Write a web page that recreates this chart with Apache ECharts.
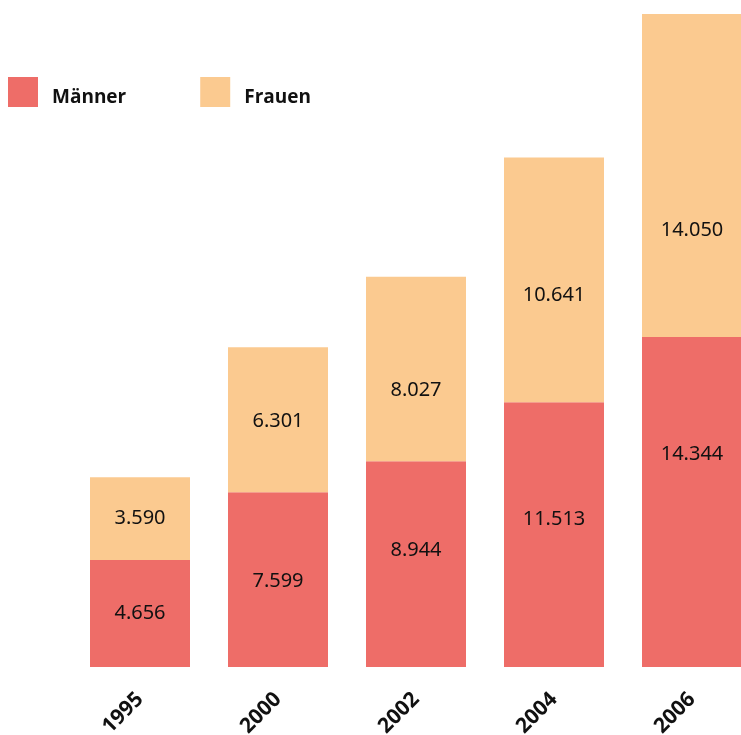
<!DOCTYPE html>
<html><head><meta charset="utf-8">
<script src="https://cdn.jsdelivr.net/npm/echarts@6/dist/echarts.min.js"></script>
<style>html,body{margin:0;padding:0;background:#fff}#c{width:741px;height:735px}</style>
</head><body><div id="c"></div>
<script>
const years = ['1995','2000','2002','2004','2006'];
const maenner = [4656, 7599, 8944, 11513, 14344];
const frauen = [3590, 6301, 8027, 10641, 14050];
const seriesNames = ['Männer','Frauen'];
const colors = ['#ee6d68','#fbca90'];
// label vertical nudges (px), styling only
const offM = [0, 2, -14, -15, -48];
const offF = [0, 2, 21, 15, 55];

const fmt = v => v.toLocaleString('de-DE');
const boldFont = '"Open Sans", sans-serif';
const chart = echarts.init(document.getElementById('c'), null, {renderer:'canvas'});
const mk = (vals, offs) => vals.map((v, i) => ({value: v, label: {offset: [0, offs[i]]}}));
const labelStyle = {show:true, position:'inside', color:'#111', fontFamily:'Noto Sans', fontSize:20,
  formatter: p => fmt(p.value)};
chart.setOption({
  animation:false,
  color: colors,
  grid:{left:71, width:690, top:14, bottom:68, outerBoundsMode:'none', containLabel:false},
  legend:{left:3, top:72, itemWidth:30, itemHeight:30, itemGap:74, icon:'rect',
    formatter: n => '{t|' + n + '}',
    textStyle:{fontFamily:boldFont, fontWeight:'bold', fontSize:19, color:'#111', padding:[0,0,0,9],
      rich:{t:{fontFamily:boldFont, fontWeight:'bold', fontSize:19, color:'#111', padding:[12,0,0,0]}}},
    data: seriesNames},
  xAxis:{type:'category', data: years, axisLine:{show:false}, axisTick:{show:false},
    axisLabel:{rotate:45, margin:29, fontFamily:boldFont, fontWeight:'bold', fontSize:21, color:'#111'}},
  yAxis:{type:'value', min:0, max:28394, show:false, splitLine:{show:false}},
  series:[
    {name:seriesNames[0], type:'bar', stack:'a', barWidth:100, data:mk(maenner, offM), label:labelStyle},
    {name:seriesNames[1], type:'bar', stack:'a', barWidth:100, data:mk(frauen, offF), label:labelStyle}
  ]
});
</script></body></html>
